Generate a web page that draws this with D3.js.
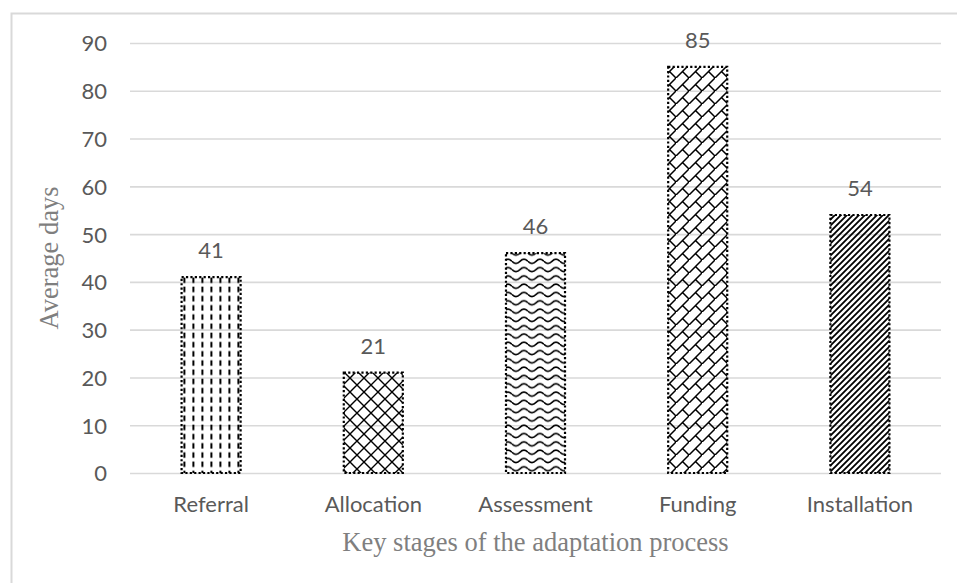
<!DOCTYPE html>
<html>
<head>
<meta charset="utf-8">
<script src="https://cdn.jsdelivr.net/npm/d3@7/dist/d3.min.js"></script>
<style>
  html, body { margin: 0; padding: 0; background: #fff; }
  svg { display: block; }
</style>
</head>
<body>
<svg id="chart" width="957" height="583"></svg>
<script>
// Stages of the adaptation process and the average number of days each takes
const stages = ["Referral", "Allocation", "Assessment", "Funding", "Installation"];
const averageDays = [41, 21, 46, 85, 54];
const yTicks = [0, 10, 20, 30, 40, 50, 60, 70, 80, 90];
const xTitle = "Key stages of the adaptation process";
const yTitle = "Average days";

const W = 957, H = 583;
const margin = { top: 43, right: 16, bottom: 110, left: 130 };
const svg = d3.select("#chart");
const labelFont = "Lato, 'Open Sans', sans-serif";
const titleFont = "'Liberation Serif', 'Times New Roman', serif";

// Outer chart frame (top and left edges visible)
svg.append("path")
  .attr("d", `M11.5,${H} L11.5,13.5 L${W},13.5`)
  .attr("fill", "none").attr("stroke", "#d9d9d9").attr("stroke-width", 2);

const x = d3.scaleBand().domain(stages)
  .range([margin.left, W - margin.right])
  .paddingInner(0.636).paddingOuter(0.318);
const y = d3.scaleLinear().domain([0, 90]).range([H - margin.bottom, margin.top]);

// Fill patterns, one per bar
const defs = svg.append("defs");
const ink = "#000";

function pat(id, w, h) {
  return defs.append("pattern").attr("id", id)
    .attr("patternUnits", "userSpaceOnUse").attr("width", w).attr("height", h);
}
// dashed vertical
let p = pat("p0", 9, 9.2);
p.append("rect").attr("x", 3.4).attr("y", 1.5).attr("width", 2).attr("height", 5.5).attr("fill", ink);
// diagonal cross-hatch
p = pat("p1", 14, 14);
p.append("path").attr("d", "M0,0 L14,14 M14,0 L0,14 M-1,13 L1,15 M13,-1 L15,1")
  .attr("stroke", ink).attr("stroke-width", 1.4).attr("fill", "none");
// wave
p = pat("p2", 16, 8.3);
p.append("path").attr("d", "M0,4 Q4,8 8,4 T16,4")
  .attr("stroke", ink).attr("stroke-width", 1.6).attr("fill", "none");
// diagonal brick
p = pat("p3", 13, 13);
p.append("path").attr("d", "M-1,14 L14,-1 M6.5,6.5 L13,13 M-1,12 L1,14")
  .attr("stroke", ink).attr("stroke-width", 1.5).attr("fill", "none");
// dark upward diagonal
p = pat("p4", 6, 6);
p.append("path").attr("d", "M-1,7 L7,-1 M-1,1 L1,-1 M5,7 L7,5")
  .attr("stroke", ink).attr("stroke-width", 1.8).attr("fill", "none");

// Gridlines
svg.append("g").selectAll("line").data(yTicks).join("line")
  .attr("x1", margin.left).attr("x2", W - margin.right)
  .attr("y1", d => y(d) + 0.5).attr("y2", d => y(d) + 0.5)
  .attr("stroke", "#d9d9d9").attr("stroke-width", 1.6);

// Y axis tick labels
const yAxis = d3.axisLeft(y).tickValues(yTicks).tickSize(0).tickPadding(0);
const gy = svg.append("g").attr("transform", `translate(107,0)`).call(yAxis);
gy.select(".domain").remove();
gy.selectAll("text").attr("font-family", labelFont)
  .attr("font-size", 22).attr("fill", "#595959").attr("dy", "0.36em");

// X axis labels
const xAxis = d3.axisBottom(x).tickSize(0).tickPadding(0);
const gx = svg.append("g").attr("transform", `translate(0,${H - margin.bottom})`).call(xAxis);
gx.select(".domain").remove();
gx.selectAll("text").attr("font-family", labelFont)
  .attr("font-size", 22).attr("fill", "#595959").attr("dy", null).attr("y", 39);

// Bars
const data = stages.map((s, i) => ({ stage: s, value: averageDays[i], i }));
svg.append("g").selectAll("rect").data(data).join("rect")
  .attr("x", d => x(d.stage)).attr("width", x.bandwidth())
  .attr("y", d => y(d.value)).attr("height", d => y(0) - y(d.value))
  .attr("fill", d => `url(#p${d.i})`)
  .attr("stroke", ink).attr("stroke-width", 2.2).attr("stroke-dasharray", "2.2,2.2");

// Value labels
svg.append("g").selectAll("text").data(data).join("text")
  .attr("x", d => x(d.stage) + x.bandwidth() / 2)
  .attr("y", d => y(d.value) - 19)
  .attr("text-anchor", "middle")
  .attr("font-family", labelFont)
  .attr("font-size", 22).attr("fill", "#595959")
  .text(d => d.value);

// Axis titles
svg.append("text")
  .attr("x", (margin.left + W - margin.right) / 2).attr("y", 551)
  .attr("text-anchor", "middle")
  .attr("font-family", titleFont)
  .attr("font-size", 26.5).attr("fill", "#7f7f7f")
  .text(xTitle);

svg.append("text")
  .attr("transform", `translate(58,${(y(0) + y(90)) / 2}) rotate(-90)`)
  .attr("text-anchor", "middle")
  .attr("font-family", titleFont)
  .attr("font-size", 26.5).attr("fill", "#7f7f7f")
  .text(yTitle);
</script>
</body>
</html>
